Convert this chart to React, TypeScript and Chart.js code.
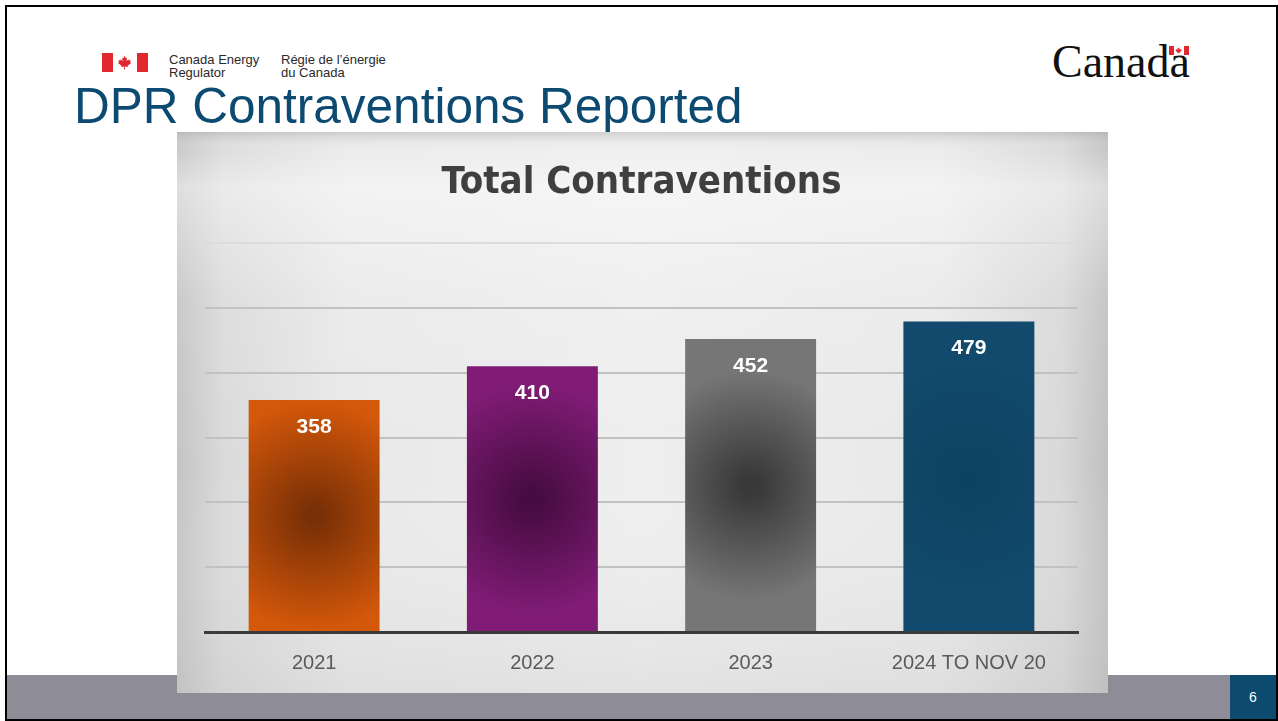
import React, { useEffect, useRef } from "react";
import { Chart, registerables } from "chart.js";

Chart.register(...registerables);

const categories: string[] = ["2021", "2022", "2023", "2024 TO NOV 20"];
const totals: number[] = [358, 410, 452, 479];
const edgeColors: string[] = ["#d4580a", "#801c76", "#767676", "#114a6c"];
const coreColors: string[] = ["#7a3006", "#470c41", "#393939", "#0e4261"];
const yMax = 600;
const yStep = 100;

const SANS = "'Liberation Sans', Arial, sans-serif";
const NARROW = "'Liberation Sans Narrow', 'Arial Narrow', 'DejaVu Sans Condensed', sans-serif";

const backgroundPlugin = {
  id: "imgBackground",
  beforeDraw(chart: any) {
    const { ctx, width, height } = chart;
    ctx.save();
    const g = ctx.createLinearGradient(0, 0, width, 0);
    g.addColorStop(0, "#c4c4c4");
    g.addColorStop(0.05, "#dadada");
    g.addColorStop(0.18, "#e9e9e9");
    g.addColorStop(0.5, "#eeeeee");
    g.addColorStop(0.82, "#e9e9e9");
    g.addColorStop(0.95, "#d8d8d8");
    g.addColorStop(1, "#c0c0c0");
    ctx.fillStyle = g;
    ctx.fillRect(0, 0, width, height);
    const v = ctx.createLinearGradient(0, 0, 0, height);
    v.addColorStop(0, "rgba(170,170,170,0.45)");
    v.addColorStop(0.03, "rgba(255,255,255,0.1)");
    v.addColorStop(0.1, "rgba(255,255,255,0.45)");
    v.addColorStop(0.3, "rgba(255,255,255,0.1)");
    v.addColorStop(0.6, "rgba(255,255,255,0)");
    v.addColorStop(1, "rgba(190,190,190,0.25)");
    ctx.fillStyle = v;
    ctx.fillRect(0, 0, width, height);
    ctx.restore();
  },
};

const valueLabelPlugin = {
  id: "valueLabels",
  afterDatasetsDraw(chart: any) {
    const { ctx } = chart;
    const meta = chart.getDatasetMeta(0);
    ctx.save();
    ctx.fillStyle = "#ffffff";
    ctx.font = `bold 21px ${SANS}`;
    ctx.textAlign = "center";
    ctx.textBaseline = "middle";
    meta.data.forEach((el: any, i: number) => {
      ctx.fillText(String(totals[i]), el.x, el.y + 27);
    });
    ctx.restore();
  },
};

function barFill(context: any) {
  const i = context.dataIndex;
  const chart = context.chart;
  const base = edgeColors[i] || "#888";
  if (context.type !== "data" || !chart.chartArea || !chart.scales?.x || !chart.scales?.y) return base;
  const x = chart.scales.x.getPixelForValue(i);
  const yTop = chart.scales.y.getPixelForValue(totals[i]);
  const yBot = chart.scales.y.getPixelForValue(0);
  if (!isFinite(x) || !isFinite(yTop) || !isFinite(yBot)) return base;
  const cy = (yTop + yBot) / 2;
  const g = chart.ctx.createRadialGradient(x, cy, 0, x, cy, 115);
  g.addColorStop(0, coreColors[i]);
  g.addColorStop(0.08, coreColors[i]);
  g.addColorStop(1, edgeColors[i]);
  return g;
}

function ChartBox() {
  const ref = useRef<HTMLCanvasElement | null>(null);
  useEffect(() => {
    if (!ref.current) return;
    const chart = new Chart(ref.current, {
      type: "bar",
      data: {
        labels: categories,
        datasets: [
          {
            data: totals,
            backgroundColor: barFill as any,
            borderWidth: 0,
            barPercentage: 0.6,
            categoryPercentage: 1,
          },
        ],
      },
      options: {
        animation: false,
        responsive: false,
        devicePixelRatio: 1,
        layout: { padding: { left: 28, right: 30, top: 0, bottom: 0 } },
        plugins: {
          legend: { display: false },
          tooltip: { enabled: false },
          title: {
            display: true,
            text: "Total Contraventions",
            color: "#3f3f3f",
            font: { family: NARROW, size: 38, weight: "bold" },
            padding: { top: 28, bottom: 37.4 },
          },
        },
        scales: {
          x: {
            grid: { display: false, drawTicks: false },
            border: { display: true, color: "#3a3a3a", width: 3 },
            ticks: {
              color: "#5a5a5a",
              font: { family: SANS, size: 20 },
              padding: 19,
            },
            afterFit: (s: any) => {
              s.height = 61;
            },
          },
          y: {
            min: 0,
            max: yMax,
            ticks: { display: false, stepSize: yStep },
            grid: {
              drawTicks: false,
              lineWidth: 2,
              color: (c: any) => (c.tick && c.tick.value === yMax ? "#dcdcdc" : "#c2c2c2"),
            },
            border: { display: false },
            afterFit: (s: any) => {
              s.width = 0;
            },
          },
        },
      },
      plugins: [backgroundPlugin, valueLabelPlugin],
    });
    return () => chart.destroy();
  }, []);
  return <canvas ref={ref} width={931} height={561} style={{ display: "block", width: 931, height: 561 }} />;
}

const leafPoints =
  "10,1 11.6,4.2 13.2,3.6 12.6,8.2 15,5.6 15.6,7.2 18.2,6.6 17.2,9.6 18.8,10.6 14,14.2 14.6,15.8 10.6,15.2 10.6,19 9.4,19 9.4,15.2 5.4,15.8 6,14.2 1.2,10.6 2.8,9.6 1.8,6.6 4.4,7.2 5,5.6 7.4,8.2 6.8,3.6 8.4,4.2";

function Flag({ left, top, w, h }: { left: number; top: number; w: number; h: number }) {
  const bar = w / 4.2;
  return (
    <div style={{ position: "absolute", left, top, width: w, height: h, background: "#fff" }}>
      <div style={{ position: "absolute", left: 0, top: 0, width: bar, height: h, background: "#e0282e" }} />
      <div style={{ position: "absolute", right: 0, top: 0, width: bar, height: h, background: "#e0282e" }} />
      <svg
        viewBox="0 0 20 20"
        style={{ position: "absolute", left: w / 2 - h * 0.4, top: h * 0.1, width: h * 0.8, height: h * 0.8 }}
      >
        <polygon points={leafPoints} fill="#e0282e" />
      </svg>
    </div>
  );
}

export default function App() {
  const small: React.CSSProperties = {
    position: "absolute",
    fontFamily: SANS,
    fontSize: 13,
    lineHeight: "13px",
    color: "#2a2a2a",
    whiteSpace: "nowrap",
  };
  return (
    <div
      style={{
        position: "fixed",
        left: 0,
        top: 0,
        width: 1278,
        height: 721,
        background: "#ffffff",
        overflow: "hidden",
        fontFamily: SANS,
      }}
    >
      <div
        style={{
          position: "absolute",
          left: 5,
          top: 5,
          width: 1273,
          height: 716,
          border: "2px solid #000",
          boxSizing: "border-box",
        }}
      />
      <Flag left={102} top={53} w={46} h={19} />
      <div style={{ ...small, left: 169, top: 53 }}>
        Canada Energy
        <br />
        Regulator
      </div>
      <div style={{ ...small, left: 281, top: 53 }}>
        Régie de l’énergie
        <br />
        du Canada
      </div>
      <div
        style={{
          position: "absolute",
          left: 1052,
          top: 39,
          fontFamily: "'Liberation Serif', 'Times New Roman', serif",
          fontSize: 46,
          lineHeight: "46px",
          color: "#111",
          whiteSpace: "nowrap",
        }}
      >
        Canada
      </div>
      <Flag left={1169} top={46} w={20} h={9} />
      <div
        style={{
          position: "absolute",
          left: 74,
          top: 81,
          fontFamily: SANS,
          fontSize: 49.5,
          lineHeight: "49px",
          color: "#0d4a72",
          whiteSpace: "nowrap",
        }}
      >
        DPR Contraventions Reported
      </div>
      <div style={{ position: "absolute", left: 7, top: 675, width: 1223, height: 44, background: "#8d8c97" }} />
      <div
        style={{
          position: "absolute",
          left: 1230,
          top: 675,
          width: 46,
          height: 44,
          background: "#0c4a6e",
          color: "#fff",
          fontFamily: SANS,
          fontSize: 14,
          lineHeight: "44px",
          textAlign: "center",
        }}
      >
        6
      </div>
      <div style={{ position: "absolute", left: 177, top: 132, width: 931, height: 561 }}>
        <ChartBox />
      </div>
    </div>
  );
}
